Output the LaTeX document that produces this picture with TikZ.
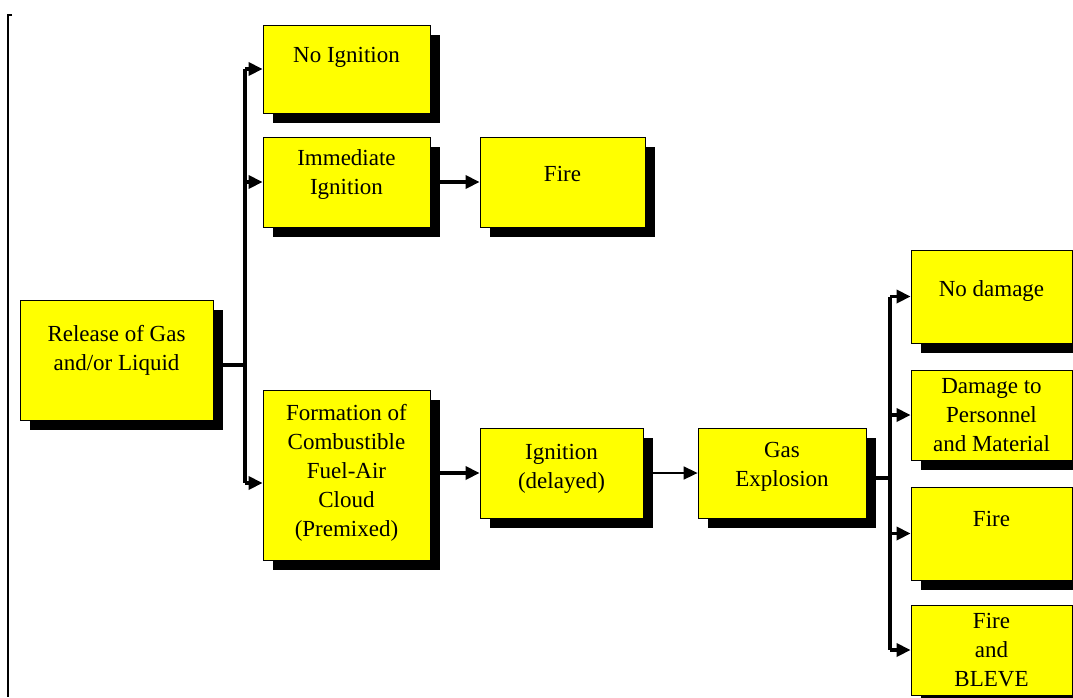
\documentclass[tikz,border=0pt]{standalone}
\usepackage{fontspec}
\setmainfont{Liberation Serif}
\usetikzlibrary{arrows.meta,shadows}
\definecolor{boxyellow}{RGB}{255,255,0}
\begin{document}
\begin{tikzpicture}[x=1pt,y=-1pt,
  box/.style={draw=black,line width=0.8pt,fill=boxyellow,align=center,inner sep=0pt,
    font=\fontsize{23}{29}\selectfont,
    drop shadow={shadow xshift=10pt,shadow yshift=-10pt,fill=black,opacity=1}},
  lift/.style={text depth=#1},
  wire/.style={line width=3.5pt},
  arr/.style={line width=3.5pt,-{Triangle[length=14pt,width=13pt]}},
  thinarr/.style={line width=1.6pt,-{Triangle[length=14pt,width=13pt]}}]
\clip (0,0) rectangle (1073,697);
\fill[white] (0,0) rectangle (1073,697);
\draw[line width=2pt] (12,15)--(8,15)--(8,697);
% boxes
\node[box,lift=25pt,minimum width=193,minimum height=120] (rel) at (116.5,360) {Release of Gas\\and/or Liquid};
\node[box,lift=29pt,minimum width=167,minimum height=88] (noign) at (346.5,69) {No Ignition};
\node[box,lift=19pt,minimum width=167,minimum height=90] (immed) at (346.5,182) {Immediate\\Ignition};
\node[box,lift=17pt,minimum width=165,minimum height=90] (fireA) at (562.5,182) {Fire};
\node[box,lift=9pt,minimum width=167,minimum height=170] (form) at (346.5,475) {Formation of\\Combustible\\Fuel-Air\\Cloud\\(Premixed)};
\node[box,lift=13pt,minimum width=163,minimum height=90] (igndel) at (561.5,473) {Ignition\\(delayed)};
\node[box,lift=17pt,minimum width=168,minimum height=90] (gas) at (782,473) {Gas\\Explosion};
\node[box,lift=15pt,minimum width=161,minimum height=93] (nodam) at (991.5,296.5) {No damage};
\node[box,minimum width=161,minimum height=90] (dmg) at (991.5,415) {Damage to\\Personnel\\and Material};
\node[box,lift=29pt,minimum width=161,minimum height=93] (fireB) at (991.5,533.5) {Fire};
\node[box,minimum width=161,minimum height=90] (bleve) at (991.5,650) {Fire\\and\\BLEVE};
% connectors
\coordinate (splitA) at (245,365);
\coordinate (splitB) at (890,478);
\draw[wire] ([xshift=8]rel.east |- splitA) -- (splitA);
\draw[wire] (splitA |- noign.west) -- ([yshift=-8]splitA |- form.west);
\draw[arr] (splitA |- noign.west) -- (noign.west);
\draw[arr] (splitA |- immed.west) -- (immed.west);
\draw[arr] ([yshift=-8]splitA |- form.west) -- ([yshift=-8]form.west);
\draw[arr] ([xshift=8]immed.east) -- (fireA.west);
\draw[arr] ([xshift=8]form.east |- igndel.west) -- (igndel.west);
\draw[thinarr] ([xshift=8]igndel.east) -- (gas.west);
\draw[wire] ([xshift=8]gas.east |- splitB) -- (splitB);
\draw[wire] (splitB |- nodam.west) -- (splitB |- bleve.west);
\draw[arr] (splitB |- nodam.west) -- (nodam.west);
\draw[arr] (splitB |- dmg.west) -- (dmg.west);
\draw[arr] (splitB |- fireB.west) -- (fireB.west);
\draw[arr] (splitB |- bleve.west) -- (bleve.west);
\end{tikzpicture}
\end{document}
